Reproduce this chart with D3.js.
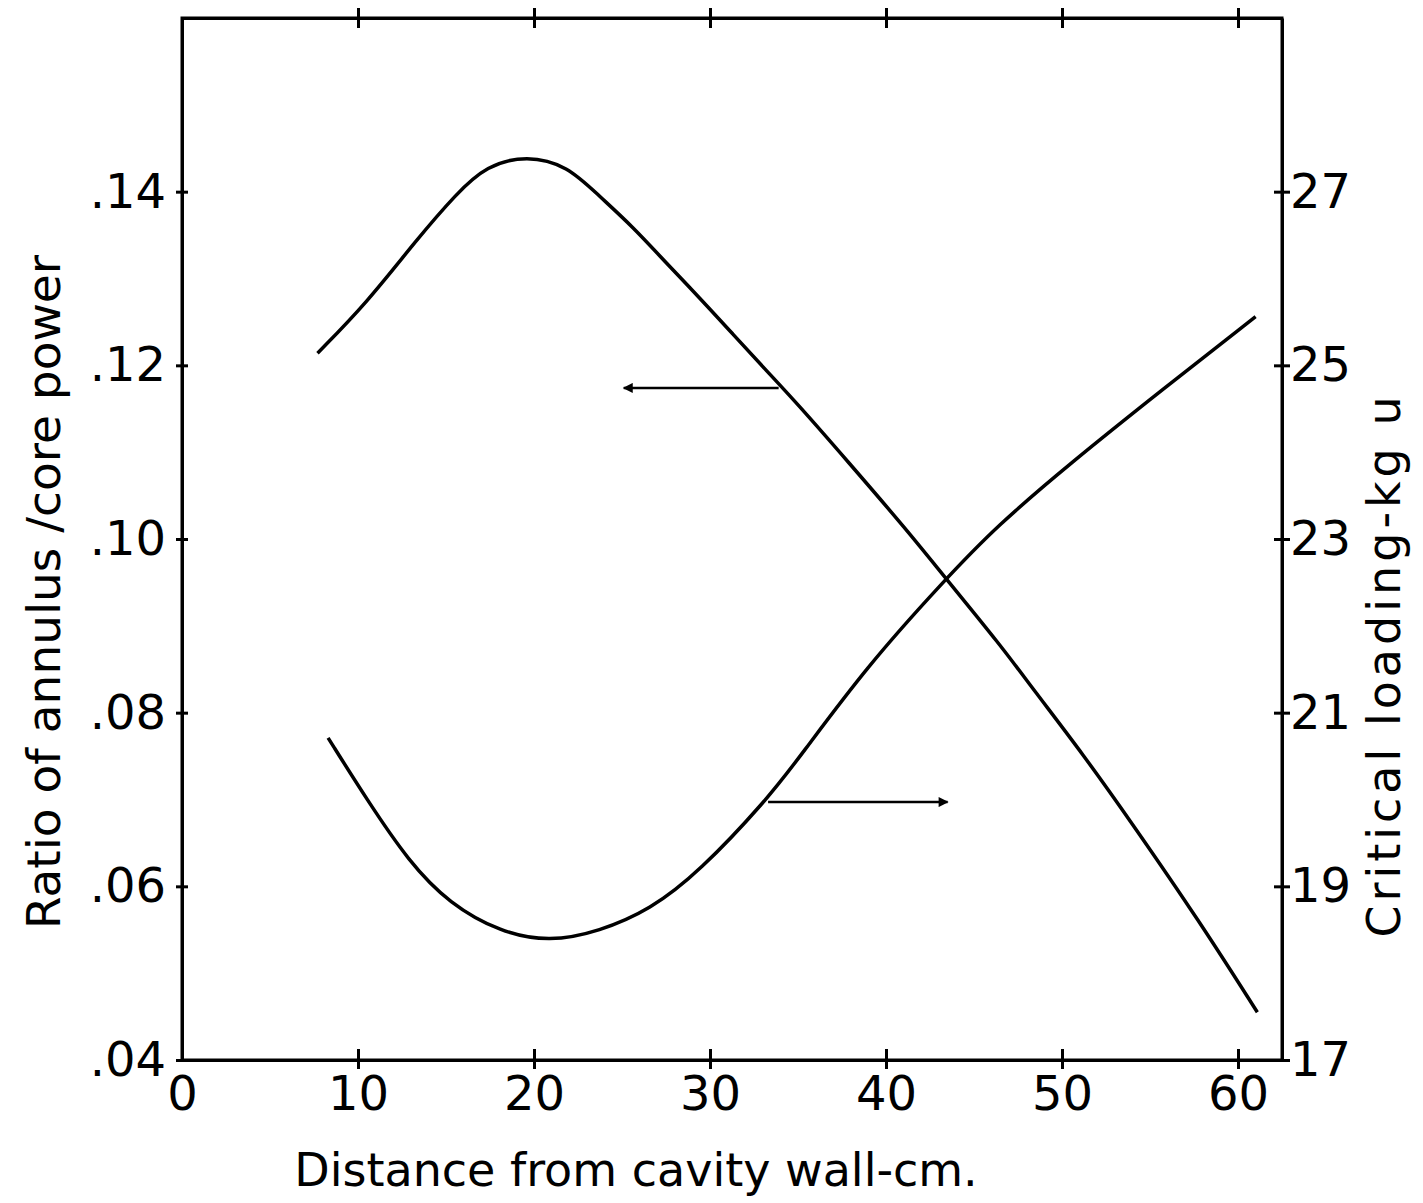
<!DOCTYPE html>
<html>
<head>
<meta charset="utf-8">
<script src="https://cdn.jsdelivr.net/npm/d3@7"></script>
<style>
  body { margin: 0; background: #fff; }
  .axis path, .axis line { stroke: #000; stroke-width: 3; }
  .axis text { font-family: "DejaVu Sans", sans-serif; font-size: 48px; fill: #000; }
</style>
</head>
<body>
<svg id="chart" width="1423" height="1203"></svg>
<script>
// distance from cavity wall (cm) and ratio of annulus / core power (left axis)
var ratio_x = [7.7, 10.5, 13.3, 15.6, 17.3, 19.6, 21.9, 23.7, 25.6, 27.6, 29.4, 31.3, 33.2, 35.0, 37.8, 41.2, 43.3, 46.5, 48.4, 51.2, 54.0, 57.8, 61.1];
var ratio_y = [0.1214, 0.1272, 0.1344, 0.1398, 0.1430, 0.1442, 0.1430, 0.1395, 0.1360, 0.1316, 0.1278, 0.1236, 0.1194, 0.1155, 0.1090, 0.1010, 0.0957, 0.0878, 0.0826, 0.0752, 0.0672, 0.0560, 0.0455];

// critical loading kg U (right axis)
var load_x = [8.3, 10.5, 12.9, 15.2, 18.1, 20.9, 23.7, 26.6, 29.4, 33.2, 35.1, 38.9, 43.3, 46.3, 50.4, 55.7, 61.0];
var load_y = [20.71, 20.00, 19.28, 18.80, 18.47, 18.36, 18.48, 18.73, 19.17, 19.99, 20.49, 21.53, 22.52, 23.15, 23.86, 24.72, 25.56];

var x_ticks = [0, 10, 20, 30, 40, 50, 60];
var left_ticks = [0.04, 0.06, 0.08, 0.10, 0.12, 0.14];
var right_ticks = [17, 19, 21, 23, 25, 27];

var svg = d3.select("#chart");
var plot_left = 182, plot_right = 1282, plot_top = 18, plot_bottom = 1060;

var xScale = d3.scaleLinear().domain([0, 62.5]).range([plot_left, plot_right]);
var yLeft = d3.scaleLinear().domain([0.04, 0.16]).range([plot_bottom, plot_top]);
var yRight = d3.scaleLinear().domain([17, 29]).range([plot_bottom, plot_top]);

// frame
svg.append("rect")
    .attr("x", plot_left).attr("y", plot_top)
    .attr("width", plot_right - plot_left).attr("height", plot_bottom - plot_top)
    .attr("fill", "none").attr("stroke", "#000").attr("stroke-width", 3);

var xAxis = svg.append("g")
    .attr("class", "axis")
    .attr("transform", "translate(0," + plot_bottom + ")")
    .call(d3.axisBottom(xScale).tickValues(x_ticks).tickSize(0).tickPadding(16)
        .tickFormat(function(d) { return d; }));
xAxis.selectAll(".tick").filter(function(d) { return d > 0; })
    .append("line").attr("y1", -11).attr("y2", 9);

var topAxis = svg.append("g")
    .attr("class", "axis")
    .attr("transform", "translate(0," + plot_top + ")")
    .call(d3.axisTop(xScale).tickValues(x_ticks.slice(1)).tickSize(0).tickFormat(""));
topAxis.selectAll(".tick").append("line").attr("y1", -10).attr("y2", 10);

var leftAxis = svg.append("g")
    .attr("class", "axis")
    .attr("transform", "translate(" + plot_left + ",0)")
    .call(d3.axisLeft(yLeft).tickValues(left_ticks).tickSize(0).tickPadding(16)
        .tickFormat(function(d) { return d3.format(".2f")(d).replace(/^0/, ""); }));
leftAxis.selectAll(".tick").append("line").attr("x1", -6).attr("x2", 6);

var rightAxis = svg.append("g")
    .attr("class", "axis")
    .attr("transform", "translate(" + plot_right + ",0)")
    .call(d3.axisRight(yRight).tickValues(right_ticks).tickSize(0).tickPadding(8));
rightAxis.selectAll(".tick").append("line").attr("x1", -8).attr("x2", 8);

// curves
var ratioLine = d3.line()
    .x(function(d) { return xScale(d[0]); })
    .y(function(d) { return yLeft(d[1]); })
    .curve(d3.curveBasis);

var loadLine = d3.line()
    .x(function(d) { return xScale(d[0]); })
    .y(function(d) { return yRight(d[1]); })
    .curve(d3.curveBasis);

svg.append("path")
    .datum(d3.zip(ratio_x, ratio_y))
    .attr("d", ratioLine)
    .attr("fill", "none").attr("stroke", "#000").attr("stroke-width", 3.5);

svg.append("path")
    .datum(d3.zip(load_x, load_y))
    .attr("d", loadLine)
    .attr("fill", "none").attr("stroke", "#000").attr("stroke-width", 3.5);

// arrows pointing to the axis each curve belongs to
svg.append("defs").append("marker")
    .attr("id", "head")
    .attr("viewBox", "0 0 10 10")
    .attr("refX", 9).attr("refY", 5)
    .attr("markerWidth", 6).attr("markerHeight", 4)
    .attr("orient", "auto")
    .append("path").attr("d", "M0,0 L10,5 L0,10 z").attr("fill", "#000");

svg.append("line")
    .attr("x1", xScale(33.9)).attr("x2", xScale(25.1))
    .attr("y1", yLeft(0.1174)).attr("y2", yLeft(0.1174))
    .attr("stroke", "#000").attr("stroke-width", 2.5)
    .attr("marker-end", "url(#head)");

svg.append("line")
    .attr("x1", xScale(33.3)).attr("x2", xScale(43.5))
    .attr("y1", yRight(19.97)).attr("y2", yRight(19.97))
    .attr("stroke", "#000").attr("stroke-width", 2.5)
    .attr("marker-end", "url(#head)");

// axis titles
svg.append("text")
    .attr("x", 636).attr("y", 1186)
    .attr("text-anchor", "middle")
    .attr("font-family", "DejaVu Sans, sans-serif")
    .attr("font-size", "46px")
    .text("Distance from cavity wall-cm.");

svg.append("text")
    .attr("transform", "translate(60,592) rotate(-90)")
    .attr("text-anchor", "middle")
    .attr("font-family", "DejaVu Sans, sans-serif")
    .attr("font-size", "47px")
    .text("Ratio of annulus /core power");

svg.append("text")
    .attr("transform", "translate(1400,665) rotate(-90)")
    .attr("text-anchor", "middle")
    .attr("font-family", "DejaVu Sans, sans-serif")
    .attr("font-size", "46px")
    .attr("letter-spacing", "4px")
    .text("Critical loading-kg u");
</script>
</body>
</html>
